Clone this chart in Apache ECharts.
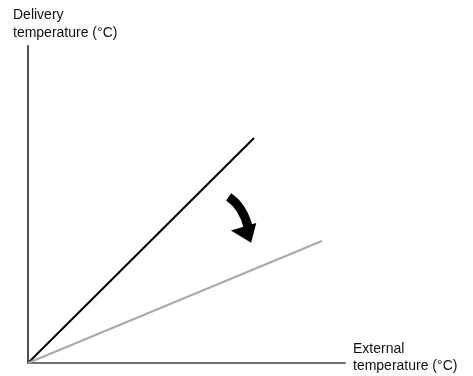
<!DOCTYPE html>
<html><head><meta charset="utf-8">
<script src="https://cdn.jsdelivr.net/npm/echarts@6/dist/echarts.min.js"></script>
<style>html,body{margin:0;padding:0;background:#fff}#c{width:473px;height:376px}</style>
</head><body><div id="c"></div>
<script>
// Data (arbitrary units, axes 0-100, no ticks)
var beforeLine = [[0, 0], [71.3, 71.0]];
var afterLine = [[0, 0], [92.7, 38.5]];
// Curved arrow annotation (data coordinates): shaft start, control, shaft end, head points
var arrowShaft = [[63.3, 52.4], [68.0, 49.2], [69.6, 42.3]];
var arrowHead = [[64.0, 41.8], [72.0, 44.2], [70.4, 37.9]];
var yTitle = 'Delivery\ntemperature (°C)';
var xTitle = 'External\ntemperature (°C)';

var chart = echarts.init(document.getElementById('c'));
var font = 'Liberation Sans, Arial, sans-serif';
chart.setOption({
  animation: false,
  grid: {left: 28, top: 46, right: 128, bottom: 13, containLabel: false},
  xAxis: {type: 'value', min: 0, max: 100, axisLine: {show: true, lineStyle: {color: '#707070', width: 2}},
    axisTick: {show: false}, axisLabel: {show: false}, splitLine: {show: false}},
  yAxis: {type: 'value', min: 0, max: 100, axisLine: {show: true, lineStyle: {color: '#505050', width: 2}},
    axisTick: {show: false}, axisLabel: {show: false}, splitLine: {show: false}},
  graphic: [
    {type: 'text', left: 13, top: 6, style: {text: yTitle, font: '14px ' + font, fill: '#111', lineHeight: 18}},
    {type: 'text', left: 353, top: 341, style: {text: xTitle, font: '14px ' + font, fill: '#111', lineHeight: 17}}
  ],
  series: [
    {type: 'line', data: beforeLine, symbol: 'none', lineStyle: {color: '#000', width: 2}},
    {type: 'line', data: afterLine, symbol: 'none', lineStyle: {color: '#aaaaaa', width: 2}},
    {type: 'custom', data: [0], renderItem: function (params, api) {
      var s = arrowShaft.map(function (p) { return api.coord(p); });
      var h = arrowHead.map(function (p) { return api.coord(p); });
      return {type: 'group', children: [
        {type: 'bezierCurve', shape: {x1: s[0][0], y1: s[0][1], cpx1: s[1][0], cpy1: s[1][1], x2: s[2][0], y2: s[2][1]},
          style: {stroke: '#000', lineWidth: 9, fill: null}},
        {type: 'polygon', shape: {points: h}, style: {fill: '#000'}}
      ]};
    }}
  ]
});
</script></body></html>
